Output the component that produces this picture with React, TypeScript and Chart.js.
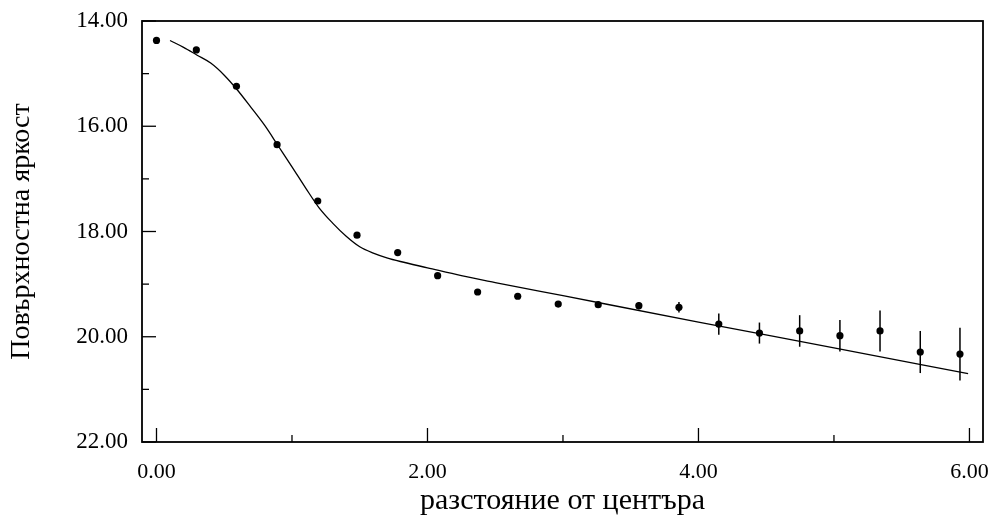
import React, { useEffect, useRef } from "react";
import { Chart, registerables } from "chart.js";

Chart.register(...registerables);

// Measured points (distance from centre, surface brightness, error)
const pointX = [0.0, 0.294, 0.59, 0.89, 1.19, 1.48, 1.78, 2.075, 2.37, 2.666, 2.965, 3.26, 3.56, 3.856, 4.15, 4.45, 4.747, 5.044, 5.34, 5.637, 5.93];
const pointY = [14.37, 14.55, 15.24, 16.35, 17.42, 18.07, 18.40, 18.84, 19.15, 19.23, 19.38, 19.39, 19.41, 19.44, 19.76, 19.93, 19.89, 19.98, 19.89, 20.29, 20.33];
const pointErr = [0, 0, 0, 0, 0, 0, 0, 0, 0, 0, 0, 0.06, 0.07, 0.1, 0.2, 0.2, 0.3, 0.3, 0.39, 0.4, 0.5];

// Model curve
const fitX = [0.1, 0.2, 0.3, 0.4, 0.5, 0.6, 0.7, 0.8, 0.9, 1.0, 1.1, 1.2, 1.3, 1.4, 1.5, 1.6, 1.7, 1.8, 2.0, 2.25, 2.5, 3.0, 4.0, 5.0, 5.99];
const fitY = [14.37, 14.50, 14.65, 14.80, 15.03, 15.32, 15.65, 15.99, 16.38, 16.77, 17.17, 17.55, 17.84, 18.09, 18.29, 18.41, 18.50, 18.57, 18.69, 18.84, 18.97, 19.22, 19.72, 20.21, 20.70];

const xTickValues = [0, 2, 4, 6];
const xMinorTickValues = [1, 3, 5];
const yTickValues = [14, 16, 18, 20, 22];
const yMinorTickValues = [15, 17, 19, 21];

const xTitle = "разстояние от центъра";
const yTitle = "Повърхностна яркост";

const FONT = "'Liberation Serif', 'Times New Roman', serif";

const framePlugin = {
  id: "frameAndErrors",
  beforeDatasetsDraw(chart: any) {
    const { ctx } = chart;
    const xs = chart.scales.x;
    const ys = chart.scales.y;
    ctx.save();
    ctx.strokeStyle = "#000";
    ctx.lineWidth = 1.5;
    pointX.forEach((x, i) => {
      const e = pointErr[i];
      if (!e) return;
      const px = xs.getPixelForValue(x);
      ctx.beginPath();
      ctx.moveTo(px, ys.getPixelForValue(pointY[i] - e));
      ctx.lineTo(px, ys.getPixelForValue(pointY[i] + e));
      ctx.stroke();
    });
    ctx.restore();
  },
  afterDraw(chart: any) {
    const { ctx, chartArea } = chart;
    const { left, right, top, bottom } = chartArea;
    const xs = chart.scales.x;
    const ys = chart.scales.y;
    ctx.save();
    ctx.strokeStyle = "#000";
    ctx.lineWidth = 1.8;
    ctx.strokeRect(left, top, right - left, bottom - top);
    ctx.lineWidth = 1.3;
    const drawX = (vals: number[], len: number) => {
      vals.forEach((v) => {
        const px = xs.getPixelForValue(v);
        ctx.beginPath();
        ctx.moveTo(px, bottom);
        ctx.lineTo(px, bottom - len);
        ctx.stroke();
      });
    };
    const drawY = (vals: number[], len: number) => {
      vals.forEach((v) => {
        const py = ys.getPixelForValue(v);
        ctx.beginPath();
        ctx.moveTo(left, py);
        ctx.lineTo(left + len, py);
        ctx.stroke();
      });
    };
    drawX(xTickValues, 14);
    drawX(xMinorTickValues, 7);
    drawY(yTickValues, 14);
    drawY(yMinorTickValues, 7);
    ctx.restore();
  },
};

const zeroPad = (s: any) => {
  s.paddingTop = 0;
  s.paddingBottom = 0;
  s.paddingLeft = 0;
  s.paddingRight = 0;
};

export default function App() {
  const ref = useRef<HTMLCanvasElement | null>(null);

  useEffect(() => {
    if (!ref.current) return;
    const chart = new Chart(ref.current, {
      type: "scatter",
      data: {
        datasets: [
          {
            label: "fit",
            data: fitX.map((x, i) => ({ x, y: fitY[i] })),
            showLine: true,
            borderColor: "#000",
            borderWidth: 1.3,
            pointRadius: 0,
            cubicInterpolationMode: "monotone",
            fill: false,
          } as any,
          {
            label: "data",
            data: pointX.map((x, i) => ({ x, y: pointY[i] })),
            showLine: false,
            pointRadius: 3.6,
            pointBackgroundColor: "#000",
            pointBorderColor: "#000",
            pointBorderWidth: 0,
          },
        ],
      },
      options: {
        responsive: false,
        animation: false,
        layout: { autoPadding: false, padding: { top: 21, right: 12, left: 0, bottom: 0 } },
        plugins: {
          legend: { display: false },
          tooltip: { enabled: false },
        },
        scales: {
          x: {
            type: "linear",
            min: -0.107,
            max: 6.1,
            grid: { display: false, drawTicks: false },
            border: { display: false },
            afterBuildTicks: (s: any) => {
              s.ticks = xTickValues.map((v) => ({ value: v }));
            },
            afterFit: (s: any) => {
              s.height = 77;
              zeroPad(s);
            },
            ticks: {
              color: "#000",
              padding: 17,
              maxRotation: 0,
              font: { family: FONT, size: 22 },
              callback: (v: any) => Number(v).toFixed(2),
            },
            title: {
              display: true,
              text: xTitle,
              color: "#000",
              font: { family: FONT, size: 30 },
              padding: { top: 0, bottom: 0 },
            },
          },
          y: {
            type: "linear",
            reverse: true,
            min: 14,
            max: 22,
            grid: { display: false, drawTicks: false },
            border: { display: false },
            afterBuildTicks: (s: any) => {
              s.ticks = yTickValues.map((v) => ({ value: v }));
            },
            afterFit: (s: any) => {
              s.width = 142;
              zeroPad(s);
            },
            ticks: {
              color: "#000",
              padding: 14,
              font: { family: FONT, size: 23 },
              callback: (v: any) => Number(v).toFixed(2),
            },
            title: {
              display: true,
              text: yTitle,
              color: "#000",
              font: { family: FONT, size: 28 },
              padding: { top: 5, bottom: 0 },
            },
          },
        },
      },
      plugins: [framePlugin],
    });
    return () => chart.destroy();
  }, []);

  return (
    <div style={{ position: "absolute", left: 0, top: 0, width: 995, height: 519, background: "#fff" }}>
      <canvas ref={ref} width={995} height={519} style={{ display: "block" }} />
    </div>
  );
}
